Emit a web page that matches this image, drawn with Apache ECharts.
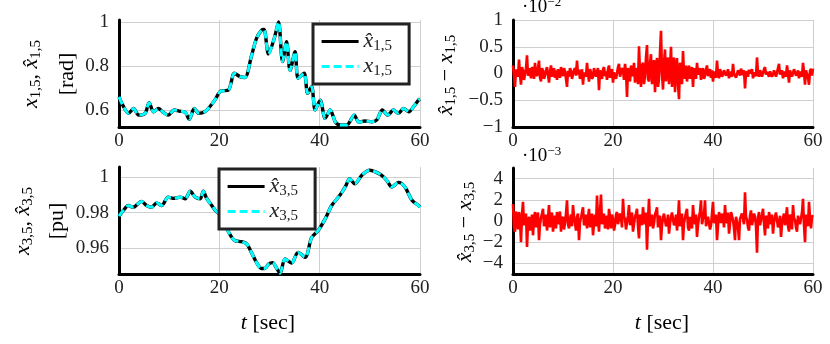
<!DOCTYPE html>
<html>
<head>
<meta charset="utf-8">
<script src="https://cdn.jsdelivr.net/npm/echarts@6/dist/echarts.min.js"></script>
<style>
  html, body { margin: 0; padding: 0; background: #fff; }
  #chart { width: 830px; height: 344px; }
</style>
</head>
<body>
<div id="chart"></div>
<script>
// 状态估计结果：x_{1,5}, x_{3,5} 及估计误差
const t15 = [0, 0.8, 1.9, 2.9, 3.9, 5.2, 6.0, 6.9, 7.9, 8.8, 9.8, 11.0, 12.0, 13.2, 14.0, 15.0, 15.9, 17.1, 18.1, 19.1,
  20.3, 21.8, 23.0, 24.1, 25.1, 26.4, 27.4, 28.4, 28.9, 29.8, 31.0, 31.8, 32.6, 33.4, 34.1, 35.1, 35.7, 36.9, 37.6, 38.4,
  39.1, 40.1, 41.1, 42.1, 43.1, 44.1, 45.4, 46.9, 47.8, 49.0, 50.4, 51.4, 52.5, 53.6, 54.7, 55.7, 56.7, 57.8, 58.7, 59.7, 60]
const x15 = [0.66, 0.62, 0.585, 0.607, 0.577, 0.585, 0.633, 0.592, 0.607, 0.59, 0.577, 0.60, 0.595, 0.59, 0.558, 0.607, 0.585, 0.592, 0.615, 0.645,
  0.686, 0.69, 0.767, 0.752, 0.748, 0.845, 0.925, 0.962, 0.966, 0.855, 0.93, 1.0, 0.82, 0.91, 0.78, 0.865, 0.744, 0.767, 0.676, 0.706,
  0.60, 0.645, 0.562, 0.60, 0.547, 0.532, 0.532, 0.577, 0.545, 0.55, 0.547, 0.555, 0.60, 0.577, 0.60, 0.585, 0.607, 0.592, 0.615, 0.645, 0.65]
// 估计值与真值在图上重合
const x15Hat = x15

const t35 = [0, 0.8, 1.9, 2.8, 4.5, 5.5, 6.5, 7.5, 8.5, 9.8, 10.8, 12.2, 13.2, 14.2, 15.2, 16.2, 16.8, 17.5, 18.5, 19.3,
  20.1, 21.5, 22.4, 23.1, 24.5, 25.5, 26.4, 27.4, 28.4, 29.1, 29.8, 30.6, 31.4, 32.1, 33.1, 34.4, 35.7, 37.1, 38.4, 39.7,
  41.1, 42.4, 44.1, 45.1, 46.0, 47.0, 48.4, 50.0, 51.0, 52.3, 53.4, 54.4, 55.7, 57.0, 58.4, 59.7, 60]
const x35 = [0.978, 0.981, 0.984, 0.983, 0.9863, 0.984, 0.983, 0.9855, 0.984, 0.9887, 0.988, 0.9887, 0.9878, 0.992, 0.9887, 0.9878, 0.992, 0.9878, 0.984, 0.981,
  0.979, 0.971, 0.9665, 0.9643, 0.9637, 0.9624, 0.9577, 0.9521, 0.9487, 0.9487, 0.9511, 0.952, 0.949, 0.946, 0.954, 0.9518, 0.9577, 0.955, 0.966, 0.970,
  0.9765, 0.984, 0.990, 0.9944, 0.999, 0.9962, 1.001, 1.0038, 1.003, 1.001, 0.998, 0.9944, 0.997, 0.9944, 0.9869, 0.984, 0.983]
const x35Hat = x35

// 误差序列，采样间隔 0.2 s（×1e-2 与 ×1e-3）
const errStep = 0.2
const err15 = [
  0.15, -0.05, -0.25, 0.08, 0.1, -0.06, 0.26, -0.02, -0.21, 0.12, 0.05, -0.12, -0.1, 0.1, 0.34, -0.04, 0.0, 0.1, -0.09, 0.12,
  0.08, -0.1, 0.2, 0.0, -0.05, 0.1, 0.24, -0.08, -0.15, 0.1, 0.05, -0.1, -0.04, 0.06, 0.12, -0.02, -0.17, 0.04, 0.15, -0.06,
  0.02, 0.1, -0.08, 0.06, -0.12, 0.08, 0.06, -0.08, 0.12, 0.02, -0.05, 0.1, 0.04, -0.1, -0.25, 0.05, -0.06, 0.1, 0.05, -0.1,
  -0.02, 0.06, 0.1, -0.04, 0.24, -0.02, 0.07, -0.1, -0.05, 0.08, -0.21, 0.02, 0.05, -0.06, 0.2, 0.0, -0.15, 0.08, 0.02, -0.1,
  -0.06, 0.1, 0.12, -0.06, 0.04, 0.1, -0.31, 0.06, -0.02, -0.1, 0.07, 0.12, -0.05, 0.04, -0.12, 0.08, 0.15, -0.08, 0.03, 0.08,
  -0.17, 0.02, 0.05, -0.1, 0.0, 0.12, 0.18, -0.06, -0.09, 0.1, 0.06, -0.12, 0.18, 0.04, -0.44, 0.1, 0.05, -0.15, 0.15, 0.0,
  -0.05, 0.2, -0.17, 0.05, 0.1, -0.2, 0.51, 0.0, -0.25, 0.15, 0.2, -0.2, -0.05, 0.3, 0.53, -0.1, -0.15, 0.2, 0.36, -0.2,
  0.05, 0.25, -0.35, 0.1, 0.29, -0.25, -0.1, 0.4, 0.8, 0.0, -0.3, 0.2, 0.45, -0.15, 0.15, 0.3, -0.2, 0.1, 0.5, -0.25,
  0.1, 0.3, -0.35, 0.05, 0.29, -0.2, -0.48, 0.2, 0.1, -0.2, 0.42, 0.0, -0.1, 0.15, -0.15, 0.05, 0.15, -0.1, 0.05, 0.12,
  -0.25, 0.1, 0.08, -0.1, 0.2, -0.02, -0.05, 0.1, -0.12, 0.05, 0.1, -0.1, -0.04, 0.08, 0.15, -0.05, 0.03, 0.08, -0.08, 0.06,
  -0.15, 0.04, 0.05, -0.08, 0.24, 0.0, -0.09, 0.08, 0.03, -0.06, -0.02, 0.06, 0.09, -0.04, 0.0, 0.08, -0.09, 0.04, 0.06, -0.06,
  0.18, 0.0, 0.02, -0.08, -0.06, 0.06, 0.05, -0.04, 0.09, 0.02, -0.03, 0.06, -0.28, 0.0, 0.04, -0.06, 0.07, 0.0, -0.02, 0.08,
  -0.09, 0.02, 0.05, -0.05, 0.3, 0.0, -0.06, 0.06, 0.02, -0.06, -0.04, 0.08, 0.12, -0.02, 0.03, 0.06, -0.06, 0.04, 0.04, -0.06,
  -0.02, 0.06, 0.09, -0.06, -0.04, 0.1, 0.18, -0.02, 0.02, 0.06, -0.09, 0.04, 0.05, -0.06, 0.15, 0.0, -0.17, 0.06, 0.03, -0.06,
  -0.05, 0.08, 0.09, -0.04, 0.0, 0.06, -0.09, 0.04, 0.05, -0.06, 0.2, 0.02, -0.21, 0.06, 0.04, -0.08, -0.21, 0.05, 0.09, -0.04, 0.09]
const err35 = [
  1.6, -0.6, -1.0, 0.9, 0.3, -0.8, 0.85, 0.2, -2.0, 0.6, 1.8, -0.4, -0.5, 0.7, -2.45, -0.2, 0.4, -0.9, -0.3, 0.6,
  -1.35, 0.2, 0.85, -0.6, 0.2, 0.8, -1.8, -0.3, 0.3, 0.7, 1.15, -0.5, 0.1, 0.6, -0.9, 0.3, 1.5, -0.6, 0.2, 0.8,
  -1.0, -0.2, 0.5, -0.7, 0.85, 0.3, -0.3, 0.9, -1.0, 0.1, 0.4, -0.8, -0.2, 0.7, 1.95, -0.3, -0.7, 0.2, 0.6, -0.5,
  1.5, 0.4, -0.2, -0.9, 0.4, 0.7, -1.8, -0.1, 0.3, 0.8, 1.3, -0.4, -0.2, 0.6, -0.7, 0.3, 1.15, -0.6, 0.1, 0.7,
  -1.35, -0.2, 0.6, -0.5, 2.4, 0.2, -1.0, 0.9, 2.5, -0.3, 0.3, 0.7, -0.7, -0.2, 0.5, -0.8, 1.15, 0.4, -0.7, 0.6,
  0.2, -0.9, -0.4, 0.6, 0.85, -0.3, -0.4, 0.7, 0.3, -0.6, 2.1, 0.4, 0.2, -0.8, -0.9, 0.5, 1.5, -0.4, 0.1, 0.8,
  -1.0, -0.3, 0.4, 0.7, 1.15, -0.5, -1.65, 0.6, 0.2, -0.4, 1.3, 0.3, -0.3, 0.8, -2.7, 0.1, 2.1, -0.5, 0.2, 0.6,
  -0.7, -0.2, 0.6, 0.9, 1.3, -0.6, 0.2, 0.5, -1.8, -0.4, 0.3, 0.7, 0.85, -0.5, -0.2, 0.6, -1.2, -0.3, 0.4, 0.8,
  0.85, -0.4, -0.2, 0.6, -0.9, 0.3, 1.95, -0.5, 0.2, 0.7, -1.8, -0.2, 0.3, 0.8, 1.15, -0.6, -0.9, 0.4, 0.3, -0.7,
  1.5, 0.2, -0.3, 0.6, -1.5, -0.4, 0.4, 0.9, 1.95, -0.3, 0.2, 0.6, 1.95, -0.5, -0.55, 0.4, 0.3, -0.8, -0.4, 0.7,
  1.8, -0.2, 0.1, 0.6, -1.8, -0.5, 0.85, 0.3, -0.2, 0.7, 0.4, -0.6, 1.5, 0.2, -0.2, 0.8, -1.2, -0.3, 0.85, 0.5,
  0.1, -0.7, -1.8, 0.4, 0.3, -0.6, -1.8, 0.2, 0.2, 0.7, 0.85, -0.3, 2.7, 0.4, 0.1, -0.6, -0.9, 0.5, 1.0, -0.4,
  -0.3, 0.7, 0.4, -0.5, -3.0, 0.3, 0.85, -0.4, 0.1, 0.6, 1.15, -0.2, -1.35, 0.5, 0.2, -0.7, 0.85, 0.3, -0.3, 0.6,
  -1.2, -0.1, 0.4, 0.8, 0.85, -0.6, -0.2, 0.5, -1.5, -0.3, 0.3, 0.7, -0.4, 0.4, 1.3, -0.5, -1.0, 0.6, 0.3, -0.8,
  1.5, 0.3, 0.1, -0.6, -1.0, 0.5, 0.55, -0.3, -0.3, 0.8, 2.1, -0.4, -2.0, 0.6, 0.3, -0.5, 1.8, 0.2, -0.7, 0.4, 0.55]

const yTicks15 = [0.6, 0.8, 1]
const yTicks35 = [0.96, 0.98, 1]
const yTicksErr15 = [-1, -0.5, 0, 0.5, 1]
const yTicksErr35 = [-4, -2, 0, 2, 4]

const FONT = 'Liberation Serif'
const TXT = '#222'
const GRID_LINE = '#cfcfcf'

const zip = (xs, ys) => xs.map((x, i) => [x, ys[i]])
const withTime = (vals) => vals.map((v, i) => [+(i * errStep).toFixed(2), v])
const fmtNum = (v) => String(+v.toFixed(3)).replace('-', '\u2212')

// 数学公式的富文本样式：i 斜体，s 下标，r 正体，p 上标
function mathRich(size) {
  return {
    i: { fontFamily: FONT, fontStyle: 'italic', fontSize: size, lineHeight: size + 3, color: TXT },
    r: { fontFamily: FONT, fontSize: size, lineHeight: size + 3, color: TXT },
    s: { fontFamily: FONT, fontSize: Math.round(size * 0.7), lineHeight: 10, verticalAlign: 'bottom', color: TXT },
    p: { fontFamily: FONT, fontSize: Math.round(size * 0.7), lineHeight: 10, verticalAlign: 'top', color: TXT }
  }
}

const tickLabel = { fontFamily: FONT, fontSize: 19, color: TXT }

function xAxisFor(gridIndex) {
  return {
    type: 'value', gridIndex, min: 0, max: 60, interval: 20,
    axisLine: { onZero: false, lineStyle: { color: '#000', width: 3 } },
    axisTick: { show: false },
    axisLabel: { ...tickLabel, margin: 5 },
    splitLine: { lineStyle: { color: GRID_LINE, width: 1 } }
  }
}

function yAxisFor(gridIndex, min, max, ticks) {
  return {
    type: 'value', gridIndex, min, max,
    axisLine: { show: true, onZero: false, lineStyle: { color: '#000', width: 3 } },
    axisTick: { show: false, customValues: ticks },
    axisLabel: { ...tickLabel, customValues: ticks, margin: 10, formatter: fmtNum },
    splitLine: { lineStyle: { color: GRID_LINE, width: 1 } }
  }
}

function estLine(name, data, axis, dashed) {
  return {
    name, type: 'line', xAxisIndex: axis, yAxisIndex: axis,
    data, smooth: 0.3, symbol: 'none',
    lineStyle: dashed ? { color: '#00ffff', width: 3, type: [8, 4] } : { color: '#000', width: 3.4 },
    itemStyle: { color: dashed ? '#00ffff' : '#000' }
  }
}

function errLine(data, axis) {
  return {
    type: 'line', xAxisIndex: axis, yAxisIndex: axis,
    data, symbol: 'none',
    lineStyle: { color: '#ff0000', width: 2.6 }
  }
}

const labels = {
  xh15: '{i|x\u0302}{s|1,5}',
  x15: '{i|x}{s|1,5}',
  xh35: '{i|x\u0302}{s|3,5}',
  x35: '{i|x}{s|3,5}'
}

function legendFor(left, top, names) {
  return {
    data: names, orient: 'vertical', left, top,
    padding: [5, 17, 5, 7], itemGap: 0, itemWidth: 37, itemHeight: 14,
    backgroundColor: '#fff', borderColor: '#222', borderWidth: 3, borderRadius: 0,
    selectedMode: false,
    itemStyle: { opacity: 0 },
    lineStyle: { width: 3.2 },
    textStyle: { rich: mathRich(22), lineHeight: 25 },
    formatter: (n) => labels[n]
  }
}

function vText(x, y, text) {
  return {
    type: 'text', x, y, rotation: Math.PI / 2,
    style: { text, rich: mathRich(22), align: 'center', verticalAlign: 'middle' }
  }
}

function hText(x, y, text, align) {
  return {
    type: 'text', x, y,
    style: { text, rich: mathRich(align === 'left' ? 19 : 22), align: align || 'center', verticalAlign: 'middle' }
  }
}

const chart = echarts.init(document.getElementById('chart'))
chart.setOption({
  animation: false,
  textStyle: { fontFamily: FONT },
  grid: [
    { left: 119, top: 20, width: 301, height: 107 },
    { left: 513, top: 20, width: 300, height: 107 },
    { left: 119, top: 167, width: 301, height: 107 },
    { left: 513, top: 168, width: 300, height: 106 }
  ],
  xAxis: [xAxisFor(0), xAxisFor(1), xAxisFor(2), xAxisFor(3)],
  yAxis: [
    yAxisFor(0, 0.523, 1.009, yTicks15),
    yAxisFor(1, -1, 1, yTicksErr15),
    yAxisFor(2, 0.9456, 1.0056, yTicks35),
    yAxisFor(3, -5, 5, yTicksErr35)
  ],
  legend: [
    legendFor(313, 24, ['xh15', 'x15']),
    legendFor(219, 169, ['xh35', 'x35'])
  ],
  series: [
    estLine('xh15', zip(t15, x15Hat), 0, false),
    estLine('x15', zip(t15, x15), 0, true),
    errLine(withTime(err15), 1),
    estLine('xh35', zip(t35, x35Hat), 2, false),
    estLine('x35', zip(t35, x35), 2, true),
    errLine(withTime(err35), 3)
  ],
  graphic: [
    vText(31, 74, '{i|x}{s|1,5}{r|, }{i|x\u0302}{s|1,5}'),
    vText(67, 74, '{r|[rad]}'),
    vText(23, 221, '{i|x}{s|3,5}{r|, }{i|x\u0302}{s|3,5}'),
    vText(57, 221, '{r|[pu]}'),
    vText(446, 75, '{i|x\u0302}{s|1,5}{r| \u2212 }{i|x}{s|1,5}'),
    vText(465, 222, '{i|x\u0302}{s|3,5}{r| \u2212 }{i|x}{s|3,5}'),
    hText(522, 7, '{r|\u00b710}{p|\u22122}', 'left'),
    hText(522, 156, '{r|\u00b710}{p|\u22123}', 'left'),
    hText(268, 323, '{i|t}{r| [sec]}'),
    hText(662, 323, '{i|t}{r| [sec]}')
  ]
})
</script>
</body>
</html>
